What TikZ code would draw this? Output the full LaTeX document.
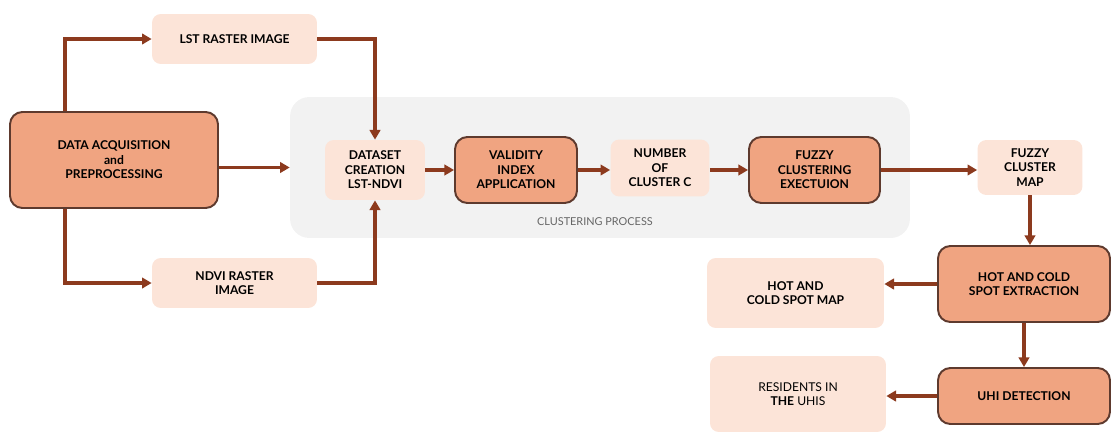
\documentclass[tikz,border=0pt]{standalone}
\usepackage{fontspec}
\setmainfont{Lato}
\usetikzlibrary{arrows.meta}
\definecolor{boxdark}{HTML}{F0A481}
\definecolor{boxlight}{HTML}{FCE4D8}
\definecolor{boxline}{HTML}{5E3A2E}
\definecolor{flowcol}{HTML}{8C3A1E}
\definecolor{procgrey}{HTML}{F2F2F2}
\tikzset{
  darkbox/.style = {draw = boxline, line width = 1.1pt, fill = boxdark,
    rounded corners = 7pt, align = center, inner sep = 2pt,
    font = \bfseries\fontsize{6.9}{8.2}\selectfont},
  lightbox/.style = {fill = boxlight, rounded corners = 5pt, align = center,
    inner sep = 2pt, font = \bfseries\fontsize{6.9}{8.2}\selectfont},
  flow/.style = {draw = flowcol, line width = 1.8pt,
    -{Triangle[length = 5.5pt, width = 6pt]}}
}
\begin{document}
\begin{tikzpicture}[x = 0.02cm, y = -0.02cm]
  \useasboundingbox (0,0) rectangle (1113,433);
  \node [fill = procgrey, rounded corners = 11pt, minimum width = 12.4cm,
    minimum height = 2.82cm] (proc) at (600,167.5) {};
  \node [text = black!60, font = \fontsize{6.2}{7}\selectfont] (proclabel)
    at (595,222) {CLUSTERING PROCESS};
  \node [darkbox, minimum width = 4.16cm, minimum height = 1.92cm] (acq)
    at (114,160) {DATA ACQUISITION\\and\\PREPROCESSING};
  \node [lightbox, minimum width = 3.3cm, minimum height = 1cm] (lst)
    at (234.5,39) {LST RASTER IMAGE};
  \node [lightbox, minimum width = 3.3cm, minimum height = 1cm] (ndvi)
    at (234.5,283) {NDVI RASTER\\IMAGE};
  \node [lightbox, minimum width = 2cm, minimum height = 1.2cm] (data)
    at (375,170) {DATASET\\CREATION\\LST-NDVI};
  \node [darkbox, minimum width = 2.44cm, minimum height = 1.32cm] (valid)
    at (516,170) {VALIDITY\\INDEX\\APPLICATION};
  \node [lightbox, minimum width = 1.98cm, minimum height = 1.14cm] (num)
    at (660,168) {NUMBER\\OF\\CLUSTER C};
  \node [darkbox, minimum width = 2.62cm, minimum height = 1.32cm] (fuzzy)
    at (814.5,170) {FUZZY\\CLUSTERING\\EXECTUION};
  \node [lightbox, minimum width = 2.1cm, minimum height = 1.1cm] (fmap)
    at (1030,167.5) {FUZZY\\CLUSTER\\MAP};
  \node [darkbox, minimum width = 3.44cm, minimum height = 1.52cm] (hot)
    at (1024,284) {HOT AND COLD\\SPOT EXTRACTION};
  \node [lightbox, minimum width = 3.54cm, minimum height = 1.4cm] (spot)
    at (795.5,293) {HOT AND\\COLD SPOT MAP};
  \node [darkbox, minimum width = 3.44cm, minimum height = 1.12cm] (uhi)
    at (1024,396) {UHI DETECTION};
  \node [lightbox, minimum width = 3.52cm, minimum height = 1.52cm,
    font = \fontsize{6.9}{8.2}\selectfont] (res)
    at (798,394) {RESIDENTS IN\\\textbf{THE} UHIS};
  \draw [flow] ([xshift = -0.98cm]acq.north) |- (lst.west);
  \draw [flow] ([xshift = -0.98cm]acq.south) |- (ndvi.west);
  \draw [flow] (acq.east |- proc.west) -- (proc.west);
  \draw [flow] (lst.east) -| (data.north);
  \draw [flow] (ndvi.east) -| (data.south);
  \draw [flow] (data.east) -- (valid.west);
  \draw [flow] (valid.east) -- (valid.east -| num.west);
  \draw [flow] (num.east |- fuzzy.west) -- (fuzzy.west);
  \draw [flow] (fuzzy.east) -- (fuzzy.east -| fmap.west);
  \draw [flow] (fmap.south) -- (fmap.south |- hot.north);
  \draw [flow] (hot.west) -- (hot.west -| spot.east);
  \draw [flow] (hot.south) -- (uhi.north);
  \draw [flow] (uhi.west) -- (uhi.west -| res.east);
\end{tikzpicture}
\end{document}
